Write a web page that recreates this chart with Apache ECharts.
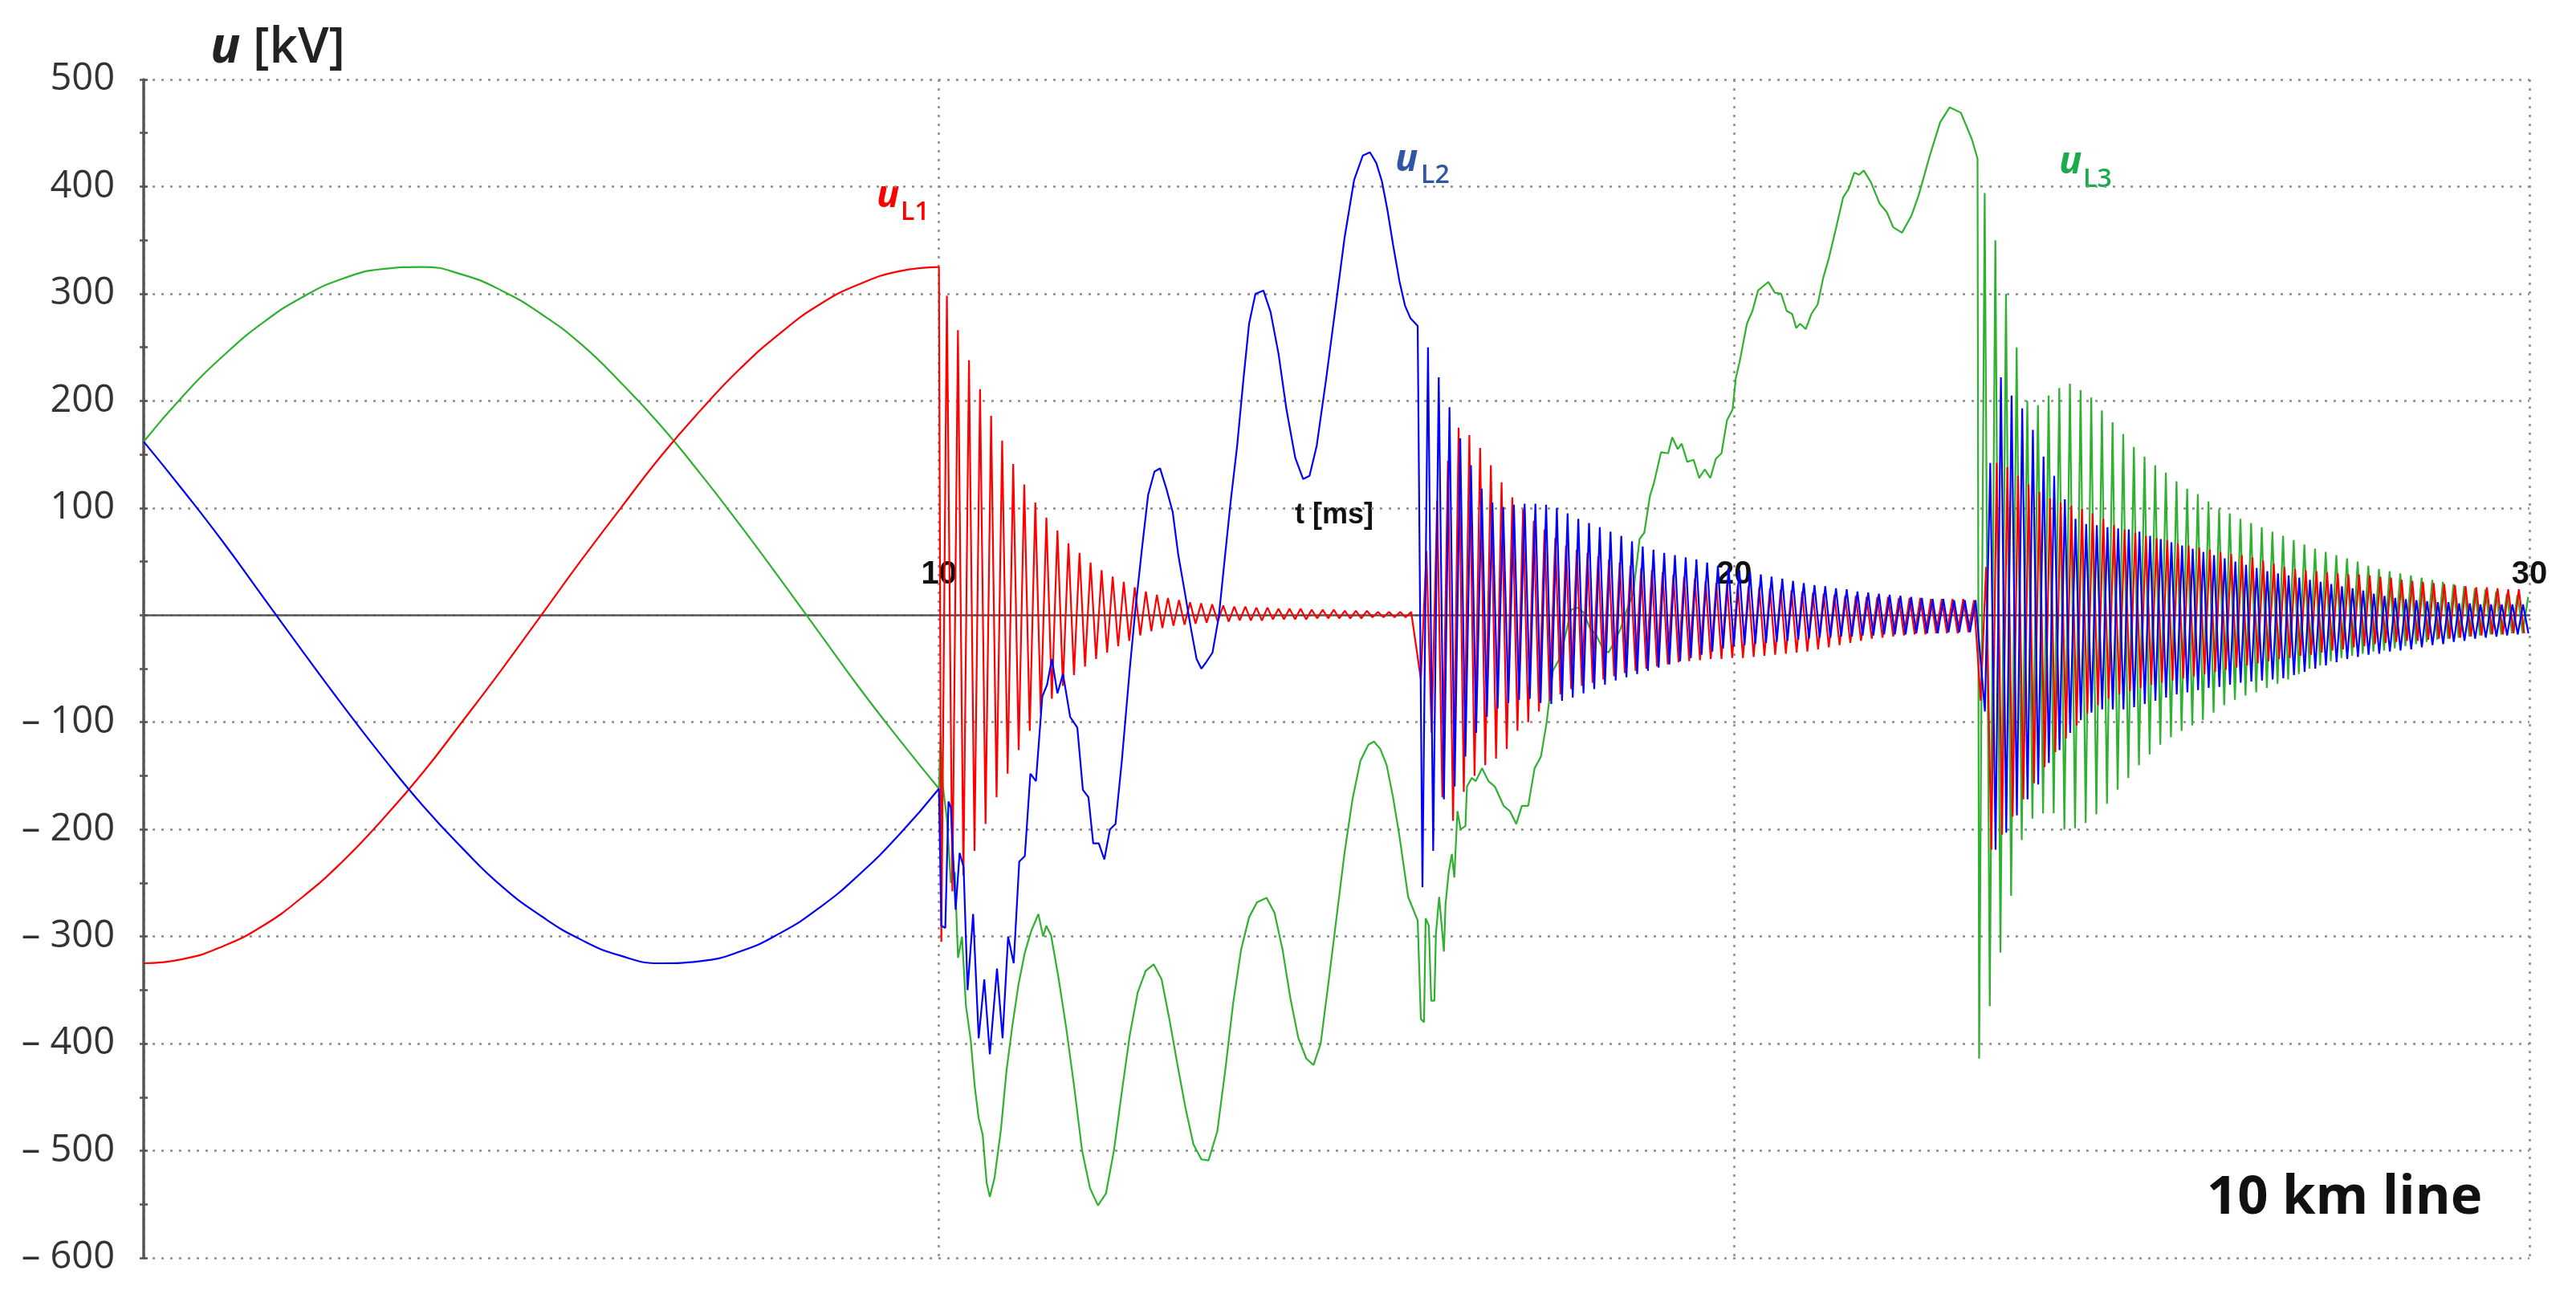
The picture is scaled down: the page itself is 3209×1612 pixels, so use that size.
<!DOCTYPE html>
<html>
<head>
<meta charset="utf-8">
<script src="https://cdn.jsdelivr.net/npm/echarts@6/dist/echarts.min.js"></script>
<style>
  html, body { margin: 0; padding: 0; background: #fff; }
  #chart { width: 3209px; height: 1612px; }
</style>
</head>
<body>
<div id="chart"></div>
<script>
// ---- steady state before the first switching (0..10 ms), u in kV ----
const tWave = [0, 0.5, 1, 1.5, 2, 2.5, 3, 3.5, 4, 4.5, 5, 5.5, 6, 6.5, 7, 7.5, 8, 8.5, 9, 9.5, 10];
const redWave = [-325, -321, -309, -290, -263, -230, -191, -148, -100, -51, 0, 51, 100, 148, 191, 230, 263, 290, 309, 321, 325];
const blueWave = [162, 116, 68, 17, -34, -84, -132, -177, -217, -253, -281, -303, -318, -325, -323, -314, -297, -273, -242, -205, -162];
const greenWave = [162, 205, 242, 273, 297, 314, 323, 325, 318, 303, 281, 253, 217, 177, 132, 84, 34, -17, -68, -116, -162];

// ---- slow parts: [t ms, u kV] ----
const bluePath = [
  [10.0, -162], [10.03, -290], [10.08, -292], [10.12, -174], [10.15, -180], [10.21, -275], [10.26, -222],
  [10.31, -235], [10.36, -350], [10.43, -279], [10.50, -395], [10.57, -340], [10.64, -410], [10.73, -330],
  [10.80, -395], [10.87, -300], [10.94, -325], [11.01, -230], [11.08, -225], [11.15, -148], [11.22, -155],
  [11.30, -76], [11.36, -65], [11.42, -41], [11.49, -73], [11.56, -55], [11.65, -95], [11.74, -105],
  [11.81, -163], [11.88, -170], [11.94, -213], [12.01, -213], [12.08, -228], [12.15, -200], [12.22, -195],
  [12.30, -136], [12.40, -50], [12.47, 5], [12.55, 60], [12.63, 112], [12.71, 134], [12.78, 137],
  [12.86, 118], [12.94, 96], [13.01, 56], [13.09, 22], [13.17, -13], [13.24, -41], [13.30, -50],
  [13.36, -44], [13.44, -35], [13.52, -1], [13.59, 50], [13.67, 107], [13.75, 158], [13.83, 221],
  [13.90, 272], [13.98, 300], [14.08, 303], [14.17, 283], [14.27, 244], [14.37, 192], [14.48, 147],
  [14.58, 127], [14.66, 130], [14.75, 158], [14.87, 221], [14.99, 289], [15.10, 352], [15.22, 406],
  [15.33, 429], [15.42, 432], [15.50, 422], [15.57, 405], [15.64, 378], [15.71, 346], [15.79, 312],
  [15.86, 289], [15.93, 277], [16.02, 270]
];
const greenPath = [
  [10.0, -162], [10.02, -113], [10.05, -160], [10.10, -190], [10.15, -250], [10.20, -240], [10.24, -320],
  [10.29, -300], [10.34, -365], [10.40, -397], [10.45, -440], [10.50, -470], [10.55, -485], [10.60, -530],
  [10.64, -543], [10.70, -525], [10.78, -480], [10.85, -425], [10.92, -385], [11.00, -345], [11.08, -315],
  [11.16, -295], [11.25, -279], [11.31, -300], [11.35, -290], [11.41, -299], [11.50, -337], [11.60, -385],
  [11.70, -440], [11.80, -500], [11.90, -535], [12.00, -551], [12.10, -540], [12.20, -500], [12.30, -445],
  [12.40, -392], [12.50, -352], [12.60, -332], [12.70, -326], [12.80, -340], [12.90, -378], [13.00, -420],
  [13.10, -460], [13.20, -494], [13.30, -508], [13.39, -509], [13.50, -482], [13.60, -425], [13.70, -362],
  [13.80, -312], [13.90, -282], [14.00, -268], [14.12, -264], [14.22, -278], [14.32, -312], [14.42, -358],
  [14.52, -395], [14.62, -414], [14.71, -420], [14.80, -400], [14.90, -342], [15.00, -282], [15.10, -222],
  [15.20, -172], [15.30, -136], [15.40, -121], [15.47, -118], [15.55, -125], [15.63, -140], [15.71, -170],
  [15.79, -206], [15.90, -263], [16.02, -285],
  [16.06, -377], [16.10, -380], [16.12, -283], [16.16, -290], [16.19, -360], [16.23, -360], [16.25, -297],
  [16.29, -263], [16.35, -314], [16.37, -270], [16.41, -240], [16.45, -223], [16.48, -245], [16.52, -183],
  [16.56, -200], [16.62, -197], [16.64, -160], [16.70, -152], [16.75, -155], [16.83, -143], [16.91, -155],
  [16.99, -160], [17.10, -178], [17.18, -183], [17.26, -195], [17.33, -178], [17.41, -178], [17.49, -143],
  [17.57, -132], [17.64, -101], [17.72, -52], [17.80, -41], [17.88, -18], [17.95, 5], [18.03, 7],
  [18.11, 2], [18.19, -13], [18.26, -18], [18.34, -30], [18.42, -35], [18.50, -24], [18.57, -13],
  [18.65, 5], [18.73, 20], [18.81, 71], [18.87, 77], [18.94, 111], [18.99, 123], [19.08, 152],
  [19.17, 151], [19.22, 166], [19.29, 155], [19.34, 160], [19.41, 143], [19.49, 145], [19.56, 128],
  [19.63, 136], [19.70, 128], [19.77, 146], [19.84, 151], [19.91, 182], [19.98, 192], [20.02, 221],
  [20.07, 237], [20.16, 272], [20.23, 284], [20.30, 303], [20.43, 311], [20.51, 301], [20.59, 300],
  [20.66, 284], [20.73, 281], [20.78, 268], [20.83, 272], [20.90, 267], [20.97, 281], [21.05, 290],
  [21.12, 315], [21.19, 333], [21.28, 361], [21.37, 390], [21.44, 398], [21.51, 413], [21.57, 411],
  [21.63, 415], [21.72, 404], [21.83, 384], [21.92, 376], [22.00, 362], [22.11, 357], [22.23, 373],
  [22.32, 392], [22.46, 429], [22.59, 460], [22.71, 474], [22.85, 469], [22.99, 444], [23.06, 426]
];

// ---- ringing after each switching: one value per swing (kV) ----
// first low at tLo, first high at tHi, one swing every `period` ms
const red1 = { tLo: 10.03, tHi: 10.10, period: 0.139 };
const red1Lo = [-305, -258, -243, -220, -195, -170, -148, -126, -108, -92, -78, -66, -56, -48, -41, -35, -29, -24, -19, -15,
  -12, -10, -9, -8, -7, -6, -6, -5, -5, -5, -4, -4, -4, -4, -3, -3, -3, -3, -3, -2, -2, -2, -2];
const red1Hi = [298, 266, 238, 211, 186, 163, 141, 122, 105, 91, 79, 67, 58, 49, 42, 36, 31, 26, 22, 19,
  16, 14, 12, 11, 10, 9, 8, 8, 7, 7, 6, 6, 6, 5, 5, 5, 4, 4, 4, 3, 3, 3, 3];

const red2 = { tLo: 16.06, tHi: 16.13, period: 0.135 };
const red2Lo = [-60, -110, -170, -192, -165, -150, -140, -134, -125, -108, -100, -90, -80, -74, -69, -66, -63, -60, -57, -54,
  -52, -50, -48, -46, -44, -43, -42, -41, -41, -40, -40, -39, -38, -37, -36, -35, -34, -32, -30, -28,
  -26, -24, -22, -21, -20, -19, -18, -18, -17, -17, -17, -16];
const red2Hi = [60, 107, 144, 175, 168, 156, 140, 124, 110, 99, 88, 80, 72, 65, 61, 58, 55, 52, 49, 46,
  44, 42, 40, 38, 36, 34, 32, 30, 29, 28, 27, 26, 25, 24, 23, 22, 21, 20, 19, 18,
  18, 17, 17, 17, 16, 16, 16, 15, 15, 15, 15, 14];

const red3 = { tLo: 23.10, tHi: 23.167, period: 0.134 };
const red3Lo = [-80, -219, -205, -188, -172, -157, -142, -128, -115, -103, -92, -84, -78, -74, -71, -68, -65, -63, -61, -59,
  -57, -55, -53, -51, -49, -47, -45, -43, -41, -40, -38, -37, -35, -33, -32, -30, -29, -27, -26, -25,
  -24, -24, -23, -22, -22, -21, -20, -19, -18, -18, -17, -17];
const red3Hi = [45, 142, 138, 130, 122, 115, 109, 105, 102, 99, 95, 90, 84, 80, 77, 74, 72, 70, 67, 65,
  63, 61, 59, 57, 56, 54, 51, 48, 45, 43, 42, 41, 40, 39, 38, 38, 37, 36, 35, 33,
  32, 31, 30, 29, 28, 27, 26, 26, 25, 24, 24];

const blue2 = { tLo: 16.08, tHi: 16.15, period: 0.135 };
const blue2Lo = [-254, -220, -172, -160, -132, -110, -95, -87, -82, -79, -78, -82, -83, -80, -77, -73, -69, -65, -61, -58,
  -55, -52, -49, -46, -43, -40, -37, -34, -31, -29, -28, -27, -26, -25, -24, -23, -22, -21, -21, -20,
  -20, -19, -19, -18, -18, -18, -17, -17, -17, -16, -16, -16];
const blue2Hi = [250, 222, 194, 165, 140, 118, 105, 101, 103, 104, 104, 103, 100, 95, 90, 86, 82, 78, 74, 69,
  64, 61, 58, 56, 54, 52, 49, 46, 44, 42, 40, 38, 36, 34, 32, 30, 28, 27, 25, 24,
  22, 21, 20, 19, 18, 17, 16, 15, 15, 14, 14, 14];

const blue3 = { tLo: 23.153, tHi: 23.22, period: 0.134 };
const blue3Lo = [-90, -219, -203, -187, -172, -158, -138, -126, -110, -98, -91, -88, -88, -88, -86, -83, -80, -77, -74, -72,
  -70, -68, -67, -65, -63, -62, -61, -60, -59, -56, -53, -50, -47, -44, -41, -39, -37, -36, -34, -33,
  -32, -30, -28, -27, -25, -24, -22, -21, -20, -19, -18, -17];
const blue3Hi = [142, 222, 205, 193, 173, 148, 130, 108, 90, 85, 84, 82, 81, 80, 78, 74, 71, 68, 65, 62,
  59, 56, 53, 50, 47, 44, 41, 39, 37, 35, 33, 31, 29, 27, 25, 23, 20, 18, 16, 15,
  14, 13, 12, 12, 11, 11, 10, 10, 10, 10, 10];

const green3 = { tLo: 23.08, tHi: 23.15, period: 0.134 };
const green3Lo = [-414, -365, -315, -262, -210, -190, -185, -185, -200, -199, -194, -186, -176, -163, -152, -140, -130, -121, -114, -108,
  -103, -98, -91, -84, -79, -75, -72, -68, -64, -60, -55, -50, -47, -43, -40, -38, -36, -34, -33, -31,
  -29, -27, -25, -23, -22, -21, -20, -19, -18, -18, -17, -17];
const green3Hi = [394, 350, 300, 250, 200, 196, 205, 212, 216, 210, 203, 191, 180, 169, 157, 148, 140, 133, 125, 118,
  113, 106, 99, 95, 90, 86, 82, 78, 74, 70, 66, 62, 59, 56, 53, 50, 46, 43, 41, 39,
  37, 35, 33, 31, 29, 27, 25, 24, 22, 20, 19, 17];

// axis ticks
const yTicks = { min: -600, max: 500, step: 100 };
const xTicks = { min: 0, max: 30, step: 10 };

function wavePoints(values) {
  return tWave.map((t, i) => [t, values[i]]);
}

function swingPoints(b, lo, hi) {
  const pts = [];
  lo.forEach((v, k) => pts.push([b.tLo + k * b.period, v]));
  hi.forEach((v, k) => pts.push([b.tHi + k * b.period, v]));
  return pts.sort((a, c) => a[0] - c[0]);
}

// transient parts start where the steady waves end (t = 10 ms)
const redTrans = [[10, redWave[redWave.length - 1]]]
  .concat(swingPoints(red1, red1Lo, red1Hi))
  .concat(swingPoints(red2, red2Lo, red2Hi))
  .concat(swingPoints(red3, red3Lo, red3Hi));
const blueTrans = bluePath
  .concat(swingPoints(blue2, blue2Lo, blue2Hi))
  .concat(swingPoints(blue3, blue3Lo, blue3Hi));
const greenTrans = greenPath
  .concat(swingPoints(green3, green3Lo, green3Hi));

const chart = echarts.init(document.getElementById('chart'), null, { renderer: 'canvas' });

const gridDots = { type: [3, 8], color: '#8c8c8c', width: 2.5 };
const axisGrey = '#555';
const red = '#ff0000', blue = '#0000ff', green = '#2fb02f';

function lineSeries(name, data, color, z, smooth) {
  return {
    name: name,
    type: 'line',
    data: data,
    smooth: smooth,
    symbol: 'none',
    showSymbol: false,
    sampling: null,
    animation: false,
    z: z,
    lineStyle: { color: color, width: 2.2 },
    itemStyle: { color: color }
  };
}

// the x axis runs along u = 0, i.e. 500/1100 of the plot height below the top
const plotTop = 99, plotBottom = 45, plotHeight = 1612 - plotTop - plotBottom;
const zeroOffset = -plotHeight * (0 - yTicks.min) / (yTicks.max - yTicks.min);

const option = {
  backgroundColor: '#fff',
  animation: false,
  grid: { left: 179, right: 58, top: plotTop, bottom: plotBottom, containLabel: false },
  xAxis: [
    {
      type: 'value',
      min: xTicks.min,
      max: xTicks.max,
      interval: xTicks.step,
      axisLine: { show: false },
      axisTick: { show: false },
      axisLabel: { show: false },
      splitLine: { show: true, lineStyle: gridDots }
    },
    {
      type: 'value',
      position: 'bottom',
      offset: zeroOffset,
      min: xTicks.min,
      max: xTicks.max,
      interval: xTicks.step,
      axisLine: { show: true, onZero: false, lineStyle: { color: axisGrey, width: 2.5 } },
      axisTick: { show: false },
      axisLabel: {
        inside: true,
        margin: 30,
        fontFamily: 'Liberation Sans',
        fontWeight: 'bold',
        fontSize: 40,
        color: '#111',
        formatter: v => (v === 0 ? '' : String(v))
      },
      splitLine: { show: false }
    }
  ],
  yAxis: [
    {
      type: 'value',
      min: yTicks.min,
      max: yTicks.max,
      interval: yTicks.step,
      axisLine: { show: true, onZero: false, lineStyle: { color: axisGrey, width: 3.5 } },
      axisTick: { show: true, length: 5, lineStyle: { color: axisGrey, width: 2.5 } },
      minorTick: { show: true, splitNumber: 2, length: 5, lineStyle: { color: axisGrey, width: 2.5 } },
      axisLabel: {
        margin: 36,
        fontFamily: 'Open Sans',
        fontSize: 47,
        color: '#333',
        formatter: v => (v === 0 ? '' : v < 0 ? '\u2013 ' + Math.abs(v) : String(v))
      },
      splitLine: { show: true, lineStyle: gridDots }
    },
    {
      type: 'value',
      min: yTicks.min,
      max: yTicks.max,
      interval: yTicks.step,
      position: 'left',
      axisLine: { show: false, onZero: false },
      axisTick: { show: true, inside: true, length: 5, lineStyle: { color: axisGrey, width: 2.5 } },
      minorTick: { show: true, splitNumber: 2, length: 5, lineStyle: { color: axisGrey, width: 2.5 } },
      axisLabel: { show: false },
      splitLine: { show: false }
    }
  ],
  series: [
    lineSeries('uL3 steady', wavePoints(greenWave), green, 2, true),
    lineSeries('uL3', greenTrans, green, 2, false),
    lineSeries('uL1 steady', wavePoints(redWave), red, 3, true),
    lineSeries('uL1', redTrans, red, 3, false),
    lineSeries('uL2 steady', wavePoints(blueWave), blue, 4, true),
    lineSeries('uL2', blueTrans, blue, 4, false)
  ],
  graphic: [
    { type: 'text', x: 262, y: 60, style: { text: 'u', fontFamily: 'Open Sans', fontStyle: 'italic', fontWeight: 'bold', fontSize: 62, fill: '#222', verticalAlign: 'middle' } },
    { type: 'text', x: 315, y: 60, style: { text: '[kV]', fontFamily: 'Open Sans', fontWeight: 600, fontSize: 62, fill: '#222', verticalAlign: 'middle' } },

    { type: 'text', x: 1092, y: 245, style: { text: 'u', fontFamily: 'Open Sans', fontStyle: 'italic', fontWeight: 'bold', fontSize: 47, fill: red, verticalAlign: 'middle' } },
    { type: 'text', x: 1122, y: 265, style: { text: 'L1', fontFamily: 'Open Sans', fontWeight: 600, fontSize: 32, fill: red, verticalAlign: 'middle' } },

    { type: 'text', x: 1738, y: 200, style: { text: 'u', fontFamily: 'Open Sans', fontStyle: 'italic', fontWeight: 'bold', fontSize: 47, fill: '#2f55a5', verticalAlign: 'middle' } },
    { type: 'text', x: 1770, y: 219, style: { text: 'L2', fontFamily: 'Open Sans', fontWeight: 600, fontSize: 32, fill: '#2f55a5', verticalAlign: 'middle' } },

    { type: 'text', x: 2565, y: 203, style: { text: 'u', fontFamily: 'Open Sans', fontStyle: 'italic', fontWeight: 'bold', fontSize: 47, fill: '#1bab4c', verticalAlign: 'middle' } },
    { type: 'text', x: 2595, y: 224, style: { text: 'L3', fontFamily: 'Open Sans', fontWeight: 600, fontSize: 32, fill: '#1bab4c', verticalAlign: 'middle' } },

    { type: 'text', x: 1613, y: 642, style: { text: 't [ms]', fontFamily: 'Liberation Sans', fontWeight: 'bold', fontSize: 36, fill: '#111', verticalAlign: 'middle' } },
    { type: 'text', x: 2749, y: 1493, style: { text: '10 km line', fontFamily: 'Open Sans', fontWeight: 'bold', fontSize: 67, fill: '#111', verticalAlign: 'middle' } }
  ]
};

chart.setOption(option);
</script>
</body>
</html>
